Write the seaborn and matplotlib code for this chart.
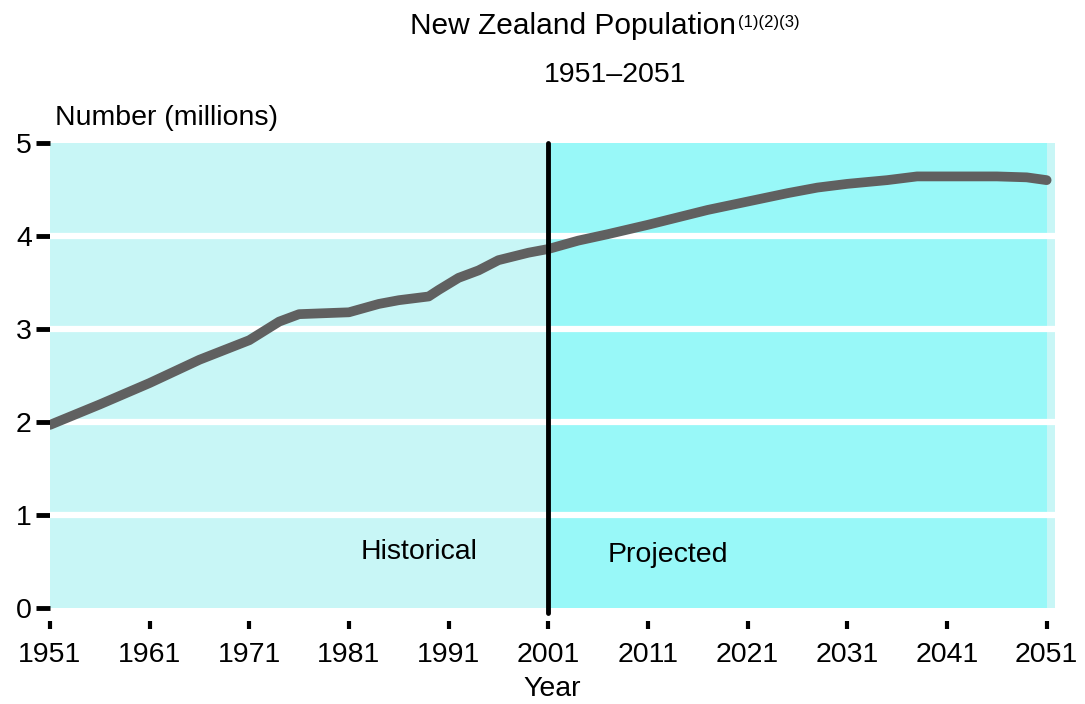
import numpy as np
import pandas as pd
import matplotlib
matplotlib.use('Agg')
import matplotlib.pyplot as plt
import seaborn as sns

years_hist = [1951, 1956, 1961, 1966, 1971, 1974, 1976, 1981, 1984, 1986, 1989, 1990, 1992, 1994, 1996, 1999, 2001]
pop_hist = [1.97, 2.19, 2.42, 2.67, 2.88, 3.08, 3.16, 3.18, 3.27, 3.31, 3.35, 3.42, 3.55, 3.63, 3.74, 3.82, 3.86]
years_proj = [2001, 2004, 2007, 2011, 2014, 2017, 2021, 2025, 2028, 2031, 2035, 2038, 2042, 2046, 2049, 2051]
pop_proj = [3.86, 3.95, 4.02, 4.12, 4.20, 4.28, 4.37, 4.46, 4.52, 4.56, 4.60, 4.64, 4.64, 4.64, 4.63, 4.60]

x_ticks = list(range(1951, 2052, 10))
y_ticks = [0, 1, 2, 3, 4, 5]

df = pd.DataFrame({'Year': years_hist + years_proj[1:],
                   'Population': pop_hist + pop_proj[1:]})

sns.set_style('white')
plt.rcParams['font.family'] = ['Liberation Sans', 'DejaVu Sans']
plt.rcParams['text.color'] = 'black'
plt.rcParams['axes.labelcolor'] = 'black'
plt.rcParams['xtick.color'] = 'black'
plt.rcParams['ytick.color'] = 'black'

fs = 20.5

fig = plt.figure(figsize=(10.85, 7.04), dpi=100)
ax = fig.add_axes([0.046, 0.136, 0.926, 0.661])

ax.set_facecolor('#C8F6F6')
ax.axvspan(2001, 2051, color='#98F8F8', lw=0, zorder=0)
for y in y_ticks[1:-1]:
    ax.axhline(y, color='white', lw=4.5, zorder=1)

sns.lineplot(data=df, x='Year', y='Population', color='#606060', lw=7,
             ax=ax, zorder=3)
ax.axvline(2001, color='black', lw=3.5, zorder=4, ymin=-0.01, clip_on=False)

ax.set_xlim(1951, 2051.8)
ax.set_ylim(0, 5)
ax.set_xticks(x_ticks)
ax.set_yticks(y_ticks)
for s in ax.spines.values():
    s.set_visible(False)
ax.spines['bottom'].set_position(('outward', 9))
ax.tick_params(axis='x', direction='out', length=6, width=3,
               labelsize=fs, pad=9, bottom=True)
ax.tick_params(axis='y', direction='out', length=10, width=3.5,
               labelsize=fs, pad=3, left=True)

ax.set_xlabel('Year', fontsize=fs, labelpad=6)
ax.set_ylabel('')
fig.text(55 / 1085, 1 - 118 / 704, 'Number (millions)', fontsize=fs, va='center')
t = fig.text(0.378, 1 - 26 / 704, 'New Zealand Population', fontsize=21.5, va='center')
ax.annotate('(1)(2)(3)', xy=(1, 1), xycoords=t, xytext=(1, -2),
            textcoords='offset points', fontsize=12, va='top', annotation_clip=False)
fig.text(0.567, 1 - 75 / 704, '1951\u20132051', fontsize=fs, ha='center', va='center')

ax.text(1988, 0.6, 'Historical', fontsize=fs, ha='center', va='center', zorder=5)
ax.text(2013, 0.57, 'Projected', fontsize=fs, ha='center', va='center', zorder=5)

fig.savefig('out.png', dpi=100)
